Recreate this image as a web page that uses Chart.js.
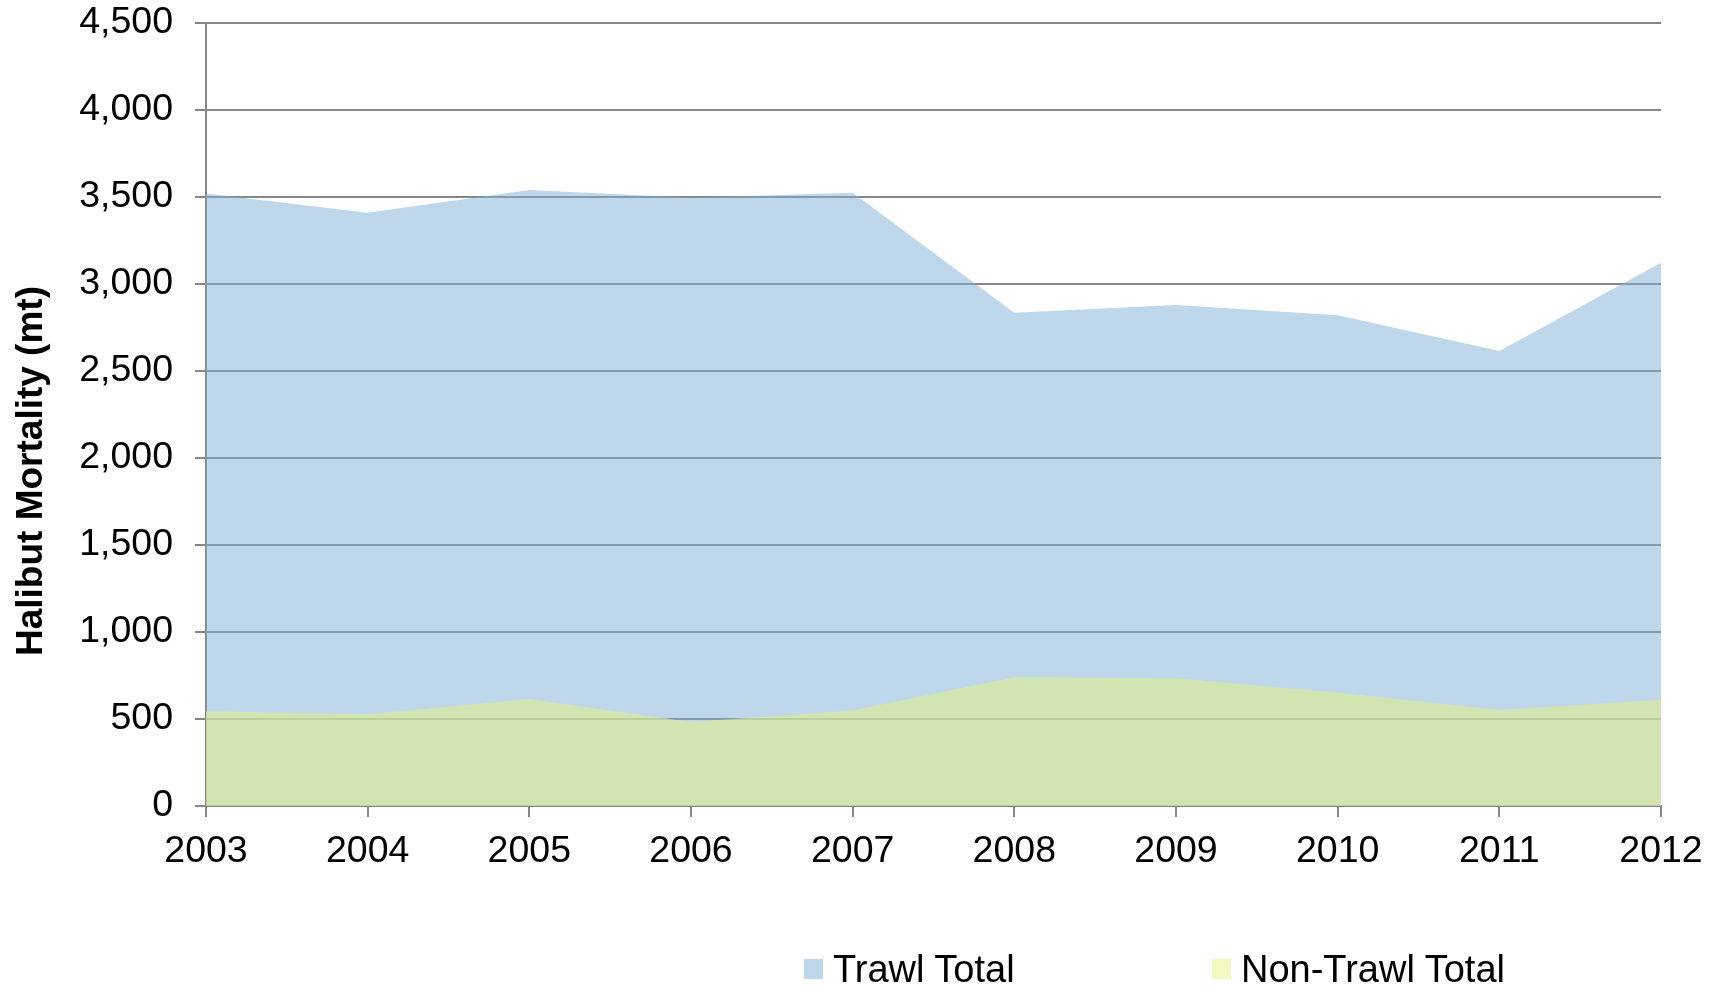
<!DOCTYPE html>
<html>
<head>
<meta charset="utf-8">
<script src="https://cdn.jsdelivr.net/npm/chart.js@4.4.1/dist/chart.umd.min.js"></script>
<style>
    body { margin: 0; background: #fff; }
    #wrap { position: relative; width: 1725px; height: 986px; overflow: hidden; font-family: "Liberation Sans", Arial, sans-serif; }
    #y-title { position: absolute; left: 30px; top: 471px; transform: translate(-50%, -50%) rotate(-90deg); font-size: 37px; font-weight: bold; white-space: nowrap; color: #000; }
    .legend-item { position: absolute; top: 949px; height: 40px; display: flex; align-items: center; font-size: 38px; line-height: 40px; color: #000; white-space: nowrap; }
    .legend-box { width: 19px; height: 20px; margin-right: 10px; }
</style>
</head>
<body>
<div id="wrap">
    <canvas id="chart" width="1725" height="986"></canvas>
    <div id="y-title">Halibut Mortality (mt)</div>
    <div id="legend"></div>
</div>
<script>
// Chart data
const years = ['2003', '2004', '2005', '2006', '2007', '2008', '2009', '2010', '2011', '2012'];
const trawl_total = [3520, 3410, 3540, 3495, 3525, 2835, 2880, 2820, 2615, 3122];
const non_trawl_total = [545, 528, 615, 483, 549, 740, 734, 652, 552, 610];
const y_ticks = [0, 500, 1000, 1500, 2000, 2500, 3000, 3500, 4000, 4500];

const series_labels = ['Trawl Total', 'Non-Trawl Total'];
const legend_colors = ['#bed6ea', '#f2f8c0'];

const font_family = '"Liberation Sans", Arial, sans-serif';
const grid_color = '#878787';

const ctx = document.getElementById('chart');

const chart = new Chart(ctx, {
    type: 'line',
    data: {
        labels: years,
        datasets: [
            {
                label: series_labels[0],
                data: trawl_total,
                fill: 'origin',
                backgroundColor: 'rgba(127,175,213,0.5)',
                borderWidth: 0,
                pointRadius: 0,
                order: 2
            },
            {
                label: series_labels[1],
                data: non_trawl_total,
                fill: 'origin',
                backgroundColor: 'rgba(224,236,148,0.63)',
                borderWidth: 0,
                pointRadius: 0,
                order: 1
            }
        ]
    },
    options: {
        responsive: false,
        animation: false,
        devicePixelRatio: 1,
        layout: {
            padding: { top: 23, right: 64, bottom: 0, left: 0 }
        },
        plugins: {
            legend: { display: false },
            tooltip: { enabled: false }
        },
        scales: {
            x: {
                z: 1,
                grid: {
                    drawOnChartArea: false,
                    color: grid_color,
                    lineWidth: 2,
                    tickLength: 11
                },
                border: { color: grid_color, width: 2 },
                ticks: {
                    color: '#000',
                    padding: 12,
                    maxRotation: 0,
                    autoSkip: false,
                    font: { family: font_family, size: 37.5 }
                },
                afterFit: scale => { scale.height = 180; }
            },
            y: {
                min: y_ticks[0],
                max: y_ticks[y_ticks.length - 1],
                afterBuildTicks: scale => {
                    scale.ticks = y_ticks.map(v => ({ value: v }));
                },
                grid: {
                    color: grid_color,
                    lineWidth: 2,
                    tickLength: 11
                },
                border: { color: grid_color, width: 2 },
                ticks: {
                    color: '#000',
                    padding: 22,
                    font: { family: font_family, size: 37.5 },
                    callback: value => value.toLocaleString('en-US')
                },
                afterFit: scale => {
                    scale.width = 206;
                    scale.paddingTop = 0;
                    scale.paddingBottom = 0;
                }
            }
        }
    }
});

// Build the legend under the chart
const legend = document.getElementById('legend');
const legend_left = [804, 1212];
series_labels.forEach((label, i) => {
    const item = document.createElement('div');
    item.className = 'legend-item';
    item.style.left = legend_left[i] + 'px';
    const box = document.createElement('span');
    box.className = 'legend-box';
    box.style.background = legend_colors[i];
    item.append(box);
    item.append(document.createTextNode(label));
    legend.append(item);
});
</script>
</body>
</html>
